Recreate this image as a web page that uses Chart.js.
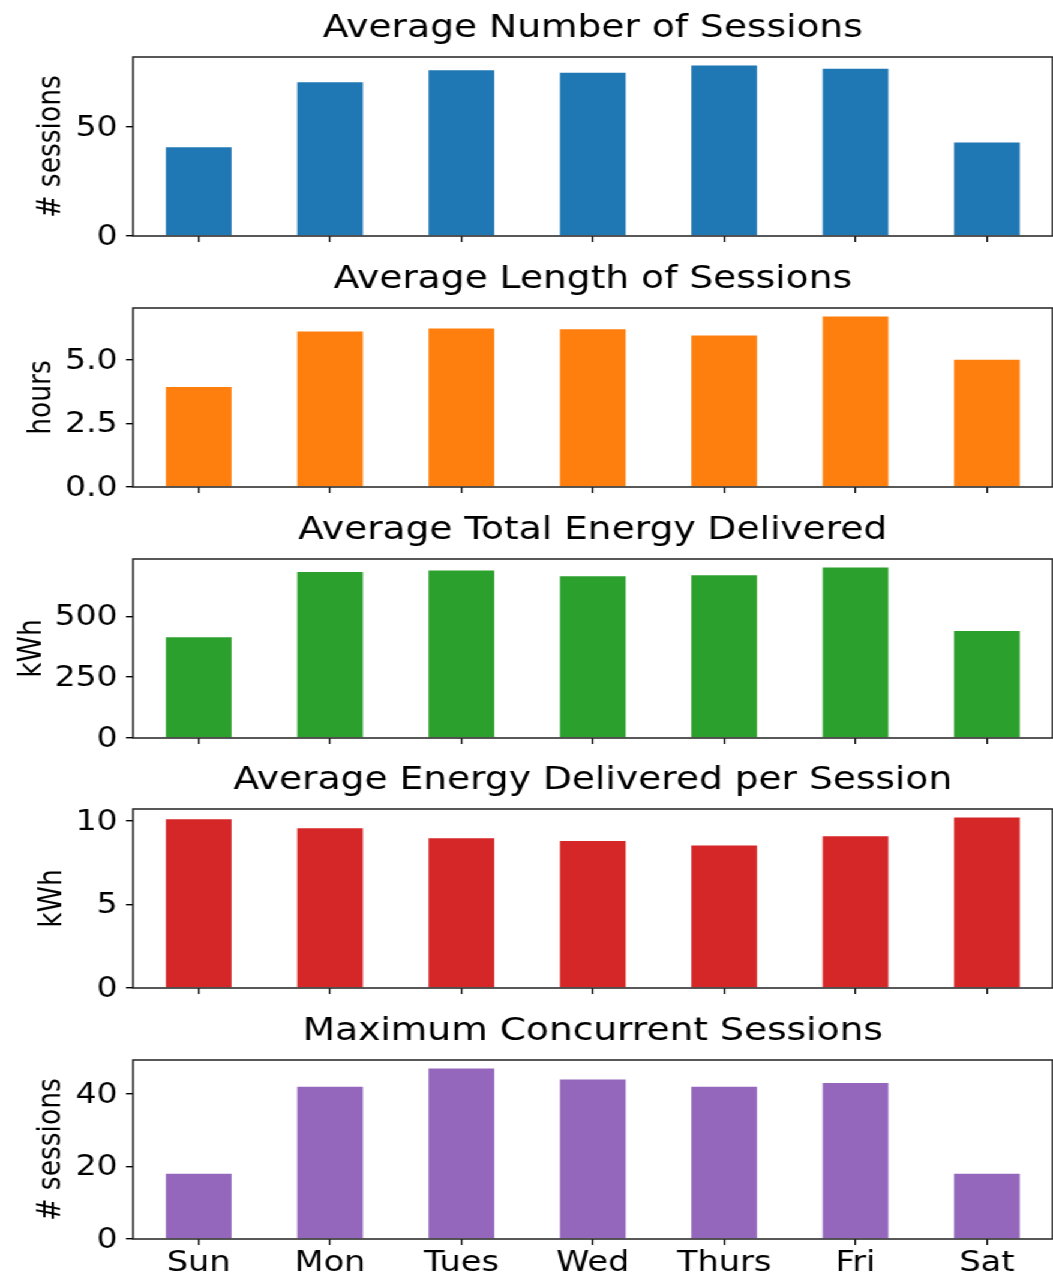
<!DOCTYPE html>
<html>
<head>
<meta charset="utf-8">
<script src="https://cdn.jsdelivr.net/npm/chart.js@4.4.1/dist/chart.umd.min.js"></script>
<style>
  html, body { margin: 0; padding: 0; background: #ffffff; }
  #fig { position: relative; height: 1276px; transform-origin: 0 0; }
  #fig canvas { position: absolute; left: 0; }
</style>
</head>
<body>
<div id="fig"></div>
<script>
// Weekday profile of charging sessions
const days = ['Sun', 'Mon', 'Tues', 'Wed', 'Thurs', 'Fri', 'Sat'];

const avgSessions      = [40.8, 70.6, 76.1, 75.0, 78.3, 76.8, 43.0];
const avgHours         = [3.94, 6.13, 6.25, 6.22, 5.97, 6.72, 5.02];
const avgEnergy        = [414, 682, 688, 664, 668, 700, 439];
const energyPerSession = [10.10, 9.56, 8.96, 8.80, 8.52, 9.08, 10.20];
const maxConcurrent    = [18, 42, 47, 44, 42, 43, 18];

const ticksSessions   = [0, 50];
const ticksHours      = [0, 2.5, 5.0];
const ticksEnergy     = [0, 250, 500];
const ticksPerSession = [0, 5, 10];
const ticksConcurrent = [0, 20, 40];

// The figure is drawn narrow and widened with a horizontal scale.
const FIG_W = 1053;
const STRETCH = 1.2;
const W = FIG_W / STRETCH;
const FONT = "'DejaVu Sans', sans-serif";

const fig = document.getElementById('fig');
fig.style.width = W + 'px';
fig.style.transform = 'scaleX(' + STRETCH + ')';

const panels = [
  { title: 'Average Number of Sessions', ylabel: '# sessions', values: avgSessions,
    ticks: ticksSessions, decimals: 0, color: '#1f77b4', labelX: 48.5 },
  { title: 'Average Length of Sessions', ylabel: 'hours', values: avgHours,
    ticks: ticksHours, decimals: 1, color: '#ff7f0e', labelX: 39.5 },
  { title: 'Average Total Energy Delivered', ylabel: 'kWh', values: avgEnergy,
    ticks: ticksEnergy, decimals: 0, color: '#2ca02c', labelX: 29.5 },
  { title: 'Average Energy Delivered per Session', ylabel: 'kWh', values: energyPerSession,
    ticks: ticksPerSession, decimals: 0, color: '#d62728', labelX: 49.5 },
  { title: 'Maximum Concurrent Sessions', ylabel: '# sessions', values: maxConcurrent,
    ticks: ticksConcurrent, decimals: 0, color: '#9467bd', labelX: 48.5 }
];

const PANEL_STEP = 250.75;
const AREA_TOP = 57;
const AREA_H = 179;
const AXIS_LEFT = 133 / STRETCH;

// Axes frame drawn over the bars, on all four sides
const frame = {
  id: 'frame',
  afterDraw(chart) {
    const a = chart.chartArea;
    const ctx = chart.ctx;
    ctx.save();
    ctx.strokeStyle = '#222222';
    ctx.lineWidth = 1.5;
    ctx.strokeRect(a.left, a.top, a.right - a.left, a.bottom - a.top);
    ctx.restore();
  }
};

// Keep tick labels from reserving extra room around the plot area
function noEdgePadding(scale) {
  scale.paddingTop = 0;
  scale.paddingBottom = 0;
  scale.paddingLeft = 0;
  scale.paddingRight = 0;
}

panels.forEach((p, i) => {
  const last = i === panels.length - 1;
  const top = Math.round(i * PANEL_STEP);
  const height = last ? 1276 - top : 251;
  const xAxisH = height - AREA_TOP - AREA_H;

  const canvas = document.createElement('canvas');
  canvas.width = Math.round(W);
  canvas.height = height;
  canvas.style.top = top + 'px';
  fig.appendChild(canvas);

  const titleFont = 31.3;
  const titleLH = titleFont * 1.2;
  const titlePadTop = 28.5 - titleLH / 2;
  const labelFont = 26.5;
  const labelPad = p.labelX / STRETCH + 2.5 - labelFont * 1.2 / 2;

  new Chart(canvas, {
    type: 'bar',
    data: {
      labels: days,
      datasets: [{
        data: p.values,
        backgroundColor: p.color,
        borderWidth: 0,
        barPercentage: 0.5,
        categoryPercentage: 1.0
      }]
    },
    options: {
      responsive: false,
      animation: false,
      devicePixelRatio: 1,
      layout: { padding: { left: 0, right: W - 1052 / STRETCH, top: 0, bottom: 0 } },
      plugins: {
        legend: { display: false },
        tooltip: { enabled: false },
        title: {
          display: true,
          fullSize: false,
          text: p.title,
          color: '#000000',
          font: { family: FONT, size: titleFont, weight: 'normal', lineHeight: 1.2 },
          padding: { top: titlePadTop, bottom: AREA_TOP - titlePadTop - titleLH }
        }
      },
      scales: {
        x: {
          type: 'category',
          offset: true,
          border: { display: false },
          grid: { offset: false, drawOnChartArea: false, drawTicks: true, tickLength: 6, color: '#000000', lineWidth: 1.3 },
          ticks: {
            display: last,
            autoSkip: false,
            maxRotation: 0,
            color: '#000000',
            padding: 2,
            font: { family: FONT, size: 28 }
          },
          afterFit(scale) { scale.height = xAxisH; noEdgePadding(scale); }
        },
        y: {
          min: 0,
          max: Math.max(...p.values) * 1.05,
          border: { display: false },
          grid: { drawOnChartArea: false, drawTicks: true, tickLength: 7 / STRETCH, color: '#000000', lineWidth: 1.4 },
          ticks: {
            color: '#000000',
            padding: 7,
            labelOffset: 1.5,
            font: { family: FONT, size: 27.5 },
            callback: (v) => Number(v).toFixed(p.decimals)
          },
          afterBuildTicks(scale) { scale.ticks = p.ticks.map(v => ({ value: v })); },
          title: {
            display: true,
            text: p.ylabel,
            color: '#000000',
            font: { family: FONT, size: labelFont, lineHeight: 1.2 },
            padding: { top: labelPad, bottom: 0 }
          },
          afterFit(scale) { scale.width = AXIS_LEFT; noEdgePadding(scale); }
        }
      }
    },
    plugins: [frame]
  });
});
</script>
</body>
</html>
